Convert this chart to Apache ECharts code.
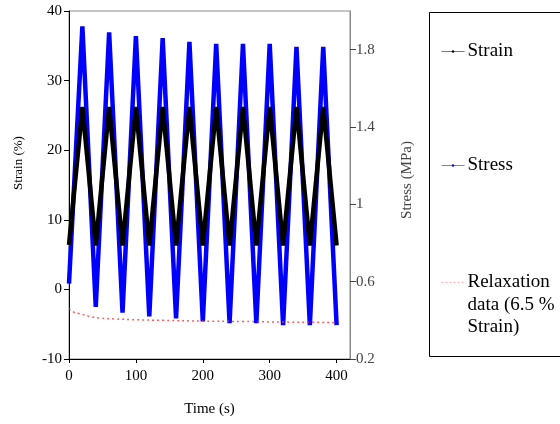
<!DOCTYPE html>
<html>
<head>
<meta charset="utf-8">
<script src="https://cdn.jsdelivr.net/npm/echarts@6/dist/echarts.min.js"></script>
<style>html,body{margin:0;padding:0;background:#fff}#c{width:560px;height:424px}</style>
</head>
<body>
<div id="c"></div>
<script>
var cycleTime = [0,20,40,60,80,100,120,140,160,180,200,220,240,260,280,300,320,340,360,380,400];
var strainValues = [6.4,26.2,6.3,26.2,6.3,26.2,6.3,26.2,6.3,26.2,6.3,26.2,6.3,26.2,6.3,26.2,6.3,26.2,6.3,26.2,6.3];
var stressValues = [0.59,1.92,0.47,1.89,0.44,1.87,0.42,1.86,0.41,1.84,0.395,1.83,0.385,1.83,0.385,1.83,0.375,1.815,0.375,1.815,0.375];
var relaxTime = [0,8,16,30,46,70,100,140,200,260,320,400];
var relaxValues = [0.460,0.441,0.434,0.421,0.412,0.407,0.403,0.400,0.396,0.394,0.391,0.389];
var xTicks = [0,100,200,300,400];
var strainTicks = [-10,0,10,20,30,40];
var stressTicks = [0.2,0.6,1,1.4,1.8];

function pairs(xs, ys){ return xs.map(function(x,i){ return [x, ys[i]]; }); }

var font = 'Liberation Serif';
var chart = echarts.init(document.getElementById('c'));
chart.setOption({
  animation: false,
  textStyle: { fontFamily: font },
  grid: { left: 69, right: 210, top: 11, bottom: 65, show: true, borderColor: '#888', borderWidth: 1, backgroundColor: 'transparent' },
  graphic: [{
    type: 'rect', shape: { x: 429.5, y: 12.5, width: 150, height: 344 },
    style: { fill: 'none', stroke: '#000', lineWidth: 1 }, z: 0
  }],
  legend: [
    { data: ['Strain'], left: 436, top: 37, orient: 'vertical', itemWidth: 23, itemHeight: 3, itemGap: 0,
      textStyle: { fontFamily: font, fontSize: 19, color: '#000', padding: [0,0,0,-2] },
      lineStyle: { width: 1, color: '#777' }, itemStyle: { color: '#000' } },
    { data: ['Stress'], left: 436, top: 151, orient: 'vertical', itemWidth: 23, itemHeight: 3, itemGap: 0,
      textStyle: { fontFamily: font, fontSize: 19, color: '#000', padding: [0,0,0,-2] },
      lineStyle: { width: 1, color: '#7777ff' }, itemStyle: { color: '#0000ff' } },
    { data: ['Relaxation'], left: 436, top: 221, orient: 'vertical', itemWidth: 23, itemHeight: 3, itemGap: 0,
      formatter: function(){ return '\n\nRelaxation\ndata (6.5 %\nStrain)'; },
      textStyle: { fontFamily: font, fontSize: 19, lineHeight: 22.5, color: '#000', padding: [0,0,0,-2] },
      lineStyle: { width: 1, color: '#ff8888', type: [2, 2] }, itemStyle: { opacity: 0 } }
  ],
  xAxis: {
    type: 'value', min: 0, max: 420,
    name: 'Time (s)', nameLocation: 'middle', nameGap: 43,
    nameTextStyle: { fontFamily: font, fontSize: 15, color: '#000' },
    axisLine: { show: true, onZero: false, lineStyle: { color: '#000', width: 1 } },
    axisTick: { show: true, length: 4, lineStyle: { color: '#000' }, customValues: xTicks },
    axisLabel: { fontFamily: font, fontSize: 15, color: '#000', margin: 10, customValues: xTicks },
    splitLine: { show: false }
  },
  yAxis: [{
    type: 'value', min: -10, max: 40, position: 'left',
    name: 'Strain (%)', nameLocation: 'middle', nameGap: 44, nameRotate: 90,
    nameTextStyle: { fontFamily: font, fontSize: 13, color: '#000', padding: [0,0,0,44] },
    axisLine: { show: true, onZero: false, lineStyle: { color: '#000', width: 1 } },
    axisTick: { show: true, length: 5, lineStyle: { color: '#000' }, customValues: strainTicks },
    axisLabel: { fontFamily: font, fontSize: 15, color: '#000', margin: 7, customValues: strainTicks },
    splitLine: { show: false }
  }, {
    type: 'value', min: 0.2, max: 2.0, position: 'right',
    name: 'Stress (MPa)', nameLocation: 'middle', nameGap: 50, nameRotate: 90,
    nameTextStyle: { fontFamily: font, fontSize: 15, color: '#444', padding: [0,0,0,10] },
    axisLine: { show: true, onZero: false, lineStyle: { color: '#888', width: 1 } },
    axisTick: { show: true, length: 6, lineStyle: { color: '#444' }, customValues: stressTicks },
    axisLabel: { fontFamily: font, fontSize: 15, color: '#444', margin: 6, customValues: stressTicks },
    splitLine: { show: false }
  }],
  series: [{
    name: 'Stress', type: 'line', yAxisIndex: 1, data: pairs(cycleTime, stressValues),
    symbol: 'circle', symbolSize: 3, showSymbol: false,
    lineStyle: { color: '#0000ff', width: 4.5 }, itemStyle: { color: '#0000ff' }, z: 2
  }, {
    name: 'Strain', type: 'line', yAxisIndex: 0, data: pairs(cycleTime, strainValues),
    symbol: 'circle', symbolSize: 3, showSymbol: false,
    lineStyle: { color: '#000', width: 4.5 }, itemStyle: { color: '#000' }, z: 3
  }, {
    name: 'Relaxation', type: 'line', yAxisIndex: 1, data: pairs(relaxTime, relaxValues),
    symbol: 'none', smooth: true,
    lineStyle: { color: '#ff3333', width: 1.5, type: [2, 3], opacity: 0.8 }, itemStyle: { color: '#ff3333' }, z: 4
  }]
});
</script>
</body>
</html>
